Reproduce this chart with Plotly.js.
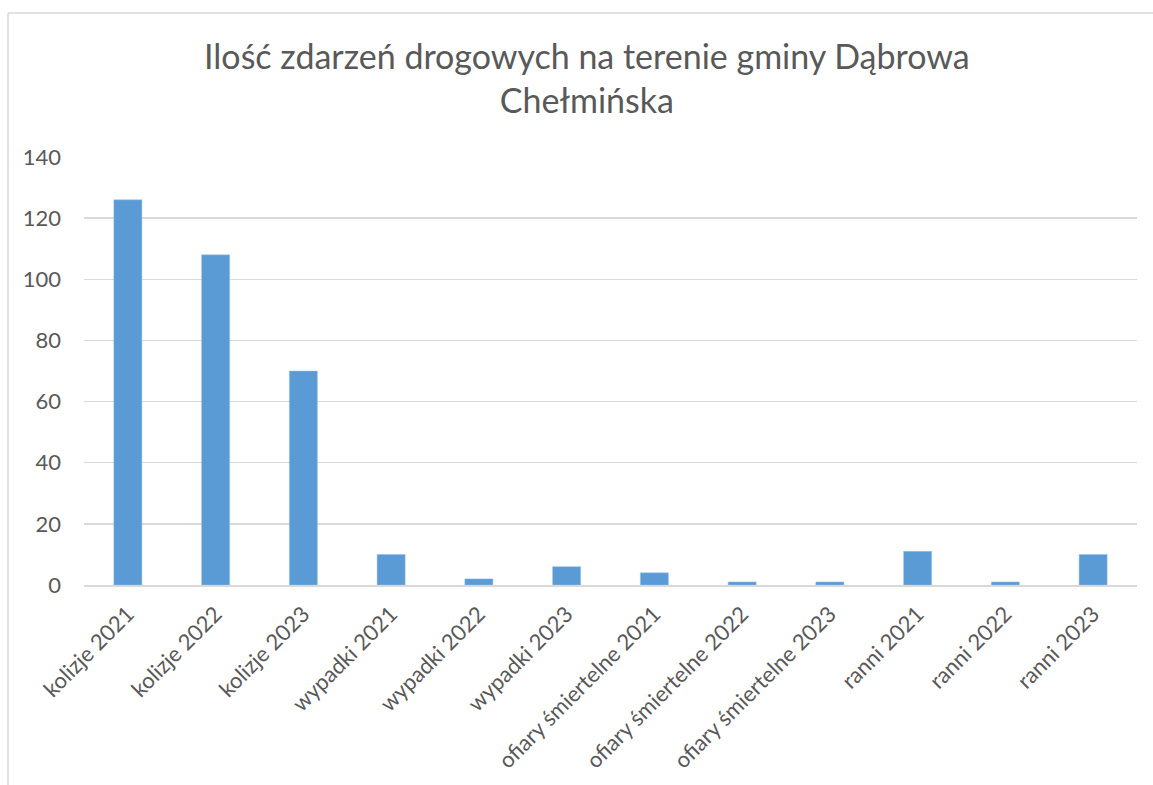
<!DOCTYPE html>
<html>
<head>
<meta charset="utf-8">
<script src="https://cdn.plot.ly/plotly-3.0.1.min.js"></script>
<style>html,body{margin:0;padding:0;background:#fff;}#chart{width:1153px;height:785px;}</style>
</head>
<body>
<div id="chart"></div>
<script>
const categories = ["kolizje 2021","kolizje 2022","kolizje 2023","wypadki 2021","wypadki 2022","wypadki 2023","ofiary śmiertelne 2021","ofiary śmiertelne 2022","ofiary śmiertelne 2023","ranni 2021","ranni 2022","ranni 2023"];
const values = [126,108,70,10,2,6,4,1,1,11,1,10];
const yTicks = [0,20,40,60,80,100,120,140];
const titleText = "Ilość zdarzeń drogowych na terenie gminy Dąbrowa<br>Chełmińska";

const W = 1153, H = 785;
const L = 84, R = 16, T = 157, B = 200;
const pw = W - L - R, ph = H - T - B;
const px = v => (v - L) / pw;
const py = v => (H - B - v) / ph;

const font = "Lato, 'Open Sans', 'Liberation Sans', sans-serif";

Plotly.newPlot('chart', [{
  type: 'bar',
  x: categories,
  y: values,
  marker: {color: '#5b9bd5', line: {color: '#9dc3e6', width: 0.5}},
  width: 0.32,
  hoverinfo: 'x+y'
}], {
  width: W, height: H,
  margin: {l: L, r: R, t: T, b: B, pad: 0},
  paper_bgcolor: '#ffffff', plot_bgcolor: '#ffffff',
  showlegend: false,
  title: {text: titleText, font: {family: font, size: 34, color: '#595959'}, x: 0.509, xanchor: 'center', yref: 'container', y: 1 - 69 / H, yanchor: 'top'},
  xaxis: {
    type: 'category', tickangle: -45, showgrid: false, zeroline: false,
    showline: true, linecolor: '#d9d9d9', linewidth: 1.5,
    ticks: '', tickfont: {family: font, size: 22, color: '#595959'}, ticklabelstandoff: 6,
    automargin: false
  },
  yaxis: {
    range: [0, 140], tickvals: yTicks, showgrid: true, gridcolor: '#d9d9d9', gridwidth: 1.3,
    zeroline: false, showline: false, ticks: '',
    tickfont: {family: font, size: 22, color: '#595959'}, ticklabelstandoff: 22,
    automargin: false
  },
  shapes: [
    {type: 'line', xref: 'paper', yref: 'paper', x0: px(8), x1: px(1160), y0: py(13), y1: py(13), line: {color: '#d9d9d9', width: 1.5}},
    {type: 'line', xref: 'paper', yref: 'paper', x0: px(8), x1: px(8), y0: py(13), y1: py(800), line: {color: '#d9d9d9', width: 1.5}}
  ]
}, {displayModeBar: false, staticPlot: true});
</script>
</body>
</html>
